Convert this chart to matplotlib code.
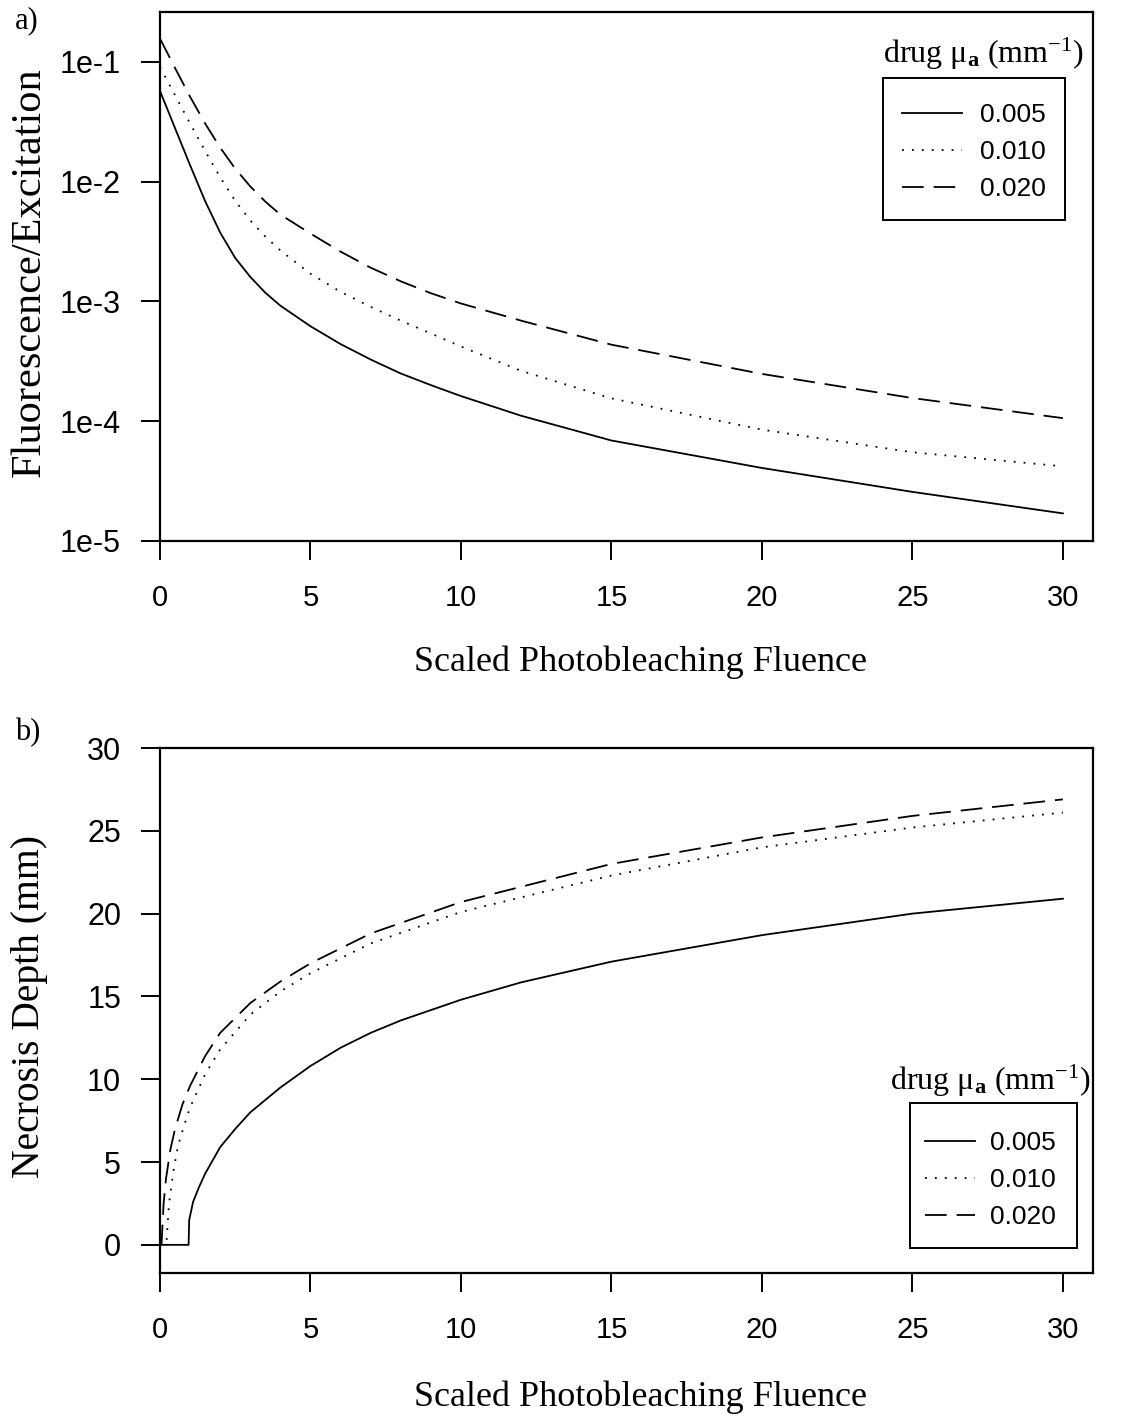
import matplotlib
matplotlib.use("Agg")
import matplotlib.pyplot as plt
from matplotlib.ticker import FixedLocator, FixedFormatter
from matplotlib.patches import Rectangle

plt.rcParams['mathtext.fontset'] = 'custom'
plt.rcParams['mathtext.rm'] = 'Liberation Serif'
plt.rcParams['mathtext.it'] = 'Liberation Serif:italic'
plt.rcParams['mathtext.bf'] = 'Liberation Serif:bold'

# ---------------- data ----------------
series_labels = ["0.005", "0.010", "0.020"]

# panel a) Fluorescence/Excitation vs scaled photobleaching fluence
fa_x = [0, 0.5, 1, 1.5, 2, 2.5, 3, 3.5, 4, 5, 6, 7, 8, 9, 10, 12, 15, 20, 25, 30]
fa_005 = [0.057, 0.0279, 0.01368, 0.00686, 0.00375, 0.00230, 0.00160, 0.00118, 9.2e-4,
          6.2e-4, 4.4e-4, 3.27e-4, 2.5e-4, 2.0e-4, 1.62e-4, 1.11e-4, 6.9e-5, 4.07e-5,
          2.57e-5, 1.7e-5]
fa_010 = [0.09, 0.0525, 0.0305, 0.018, 0.01085, 0.0069, 0.00473, 0.00347, 0.00266,
          0.0017, 0.0012, 9.0e-4, 6.9e-4, 5.4e-4, 4.2e-4, 2.63e-4, 1.55e-4, 8.5e-5,
          5.5e-5, 4.2e-5]
fa_020 = [0.156, 0.0885, 0.051, 0.0305, 0.0192, 0.0128, 0.0091, 0.0068, 0.0053,
          0.00368, 0.0026, 0.00191, 0.00147, 0.00117, 9.6e-4, 6.9e-4, 4.35e-4, 2.48e-4,
          1.56e-4, 1.06e-4]

# panel b) Necrosis depth vs scaled photobleaching fluence
nb_x_005 = [0, 0.95, 0.97, 1.1, 1.3, 1.5, 2, 2.5, 3, 4, 5, 6, 7, 8, 10, 12, 15, 20, 25, 30]
nb_005 = [0, 0, 1.5, 2.6, 3.5, 4.3, 5.9, 7.0, 8.0, 9.5, 10.8, 11.9, 12.8, 13.55, 14.8,
          15.85, 17.1, 18.7, 20.0, 20.9]
nb_x_010 = [0.22, 0.3, 0.45, 0.6, 0.8, 1, 1.5, 2, 3, 4, 5, 7, 10, 15, 20, 25, 30]
nb_010 = [0.3, 2.5, 4.5, 6.0, 7.2, 8.3, 10.3, 11.8, 13.9, 15.3, 16.4, 18.2, 20.1,
          22.3, 24.0, 25.2, 26.1]
nb_x_020 = [0, 0.05, 0.12, 0.2, 0.35, 0.5, 0.75, 1, 1.5, 2, 3, 4, 5, 7, 10, 15, 20, 25, 30]
nb_020 = [0, 0, 2.5, 4.0, 5.8, 7.0, 8.5, 9.6, 11.4, 12.8, 14.6, 15.9, 17.0, 18.8,
          20.7, 23.0, 24.6, 25.9, 26.9]

xticks = [0, 5, 10, 15, 20, 25, 30]
a_yticks = [1e-5, 1e-4, 1e-3, 1e-2, 1e-1]
a_yticklabels = ["1e-5", "1e-4", "1e-3", "1e-2", "1e-1"]
b_yticks = [0, 5, 10, 15, 20, 25, 30]

# ---------------- style ----------------
W, H = 1123, 1421
fig = plt.figure(figsize=(W / 100, H / 100), dpi=100)
SANS = "Liberation Sans"
SERIF = "Liberation Serif"
lw = 1.3
styles = [dict(ls='-'), dict(ls=(0, (1, 4.5))), dict(ls=(0, (12, 5.5)))]


def fx(px):
    return px / W


def fy(py):
    return 1 - py / H


def style_axes(ax):
    for s in ax.spines.values():
        s.set_linewidth(1.6)
        s.set_color('black')
    ax.tick_params(direction='out', length=14, width=1.4, color='black')
    ax.tick_params(axis='x', pad=17, labelsize=21)
    ax.tick_params(axis='y', pad=14, labelsize=22)
    ax.minorticks_off()
    for lab in ax.get_xticklabels() + ax.get_yticklabels():
        lab.set_fontfamily(SANS)


def add_legend(ax, lines, box, anchor, title_xy, hlen, htpad):
    fig.text(fx(title_xy[0]), fy(title_xy[1]),
             r"drug μ$_{\mathbf{a}}$ (mm$^{\mathrm{-1}}$)",
             family=SERIF, fontsize=23, ha='left', va='baseline')
    x0, y0, x1, y1 = box
    fig.patches.append(Rectangle((fx(x0), fy(y1)), (x1 - x0) / W, (y1 - y0) / H,
                                 transform=fig.transFigure, fill=False,
                                 edgecolor='black', linewidth=1.4, zorder=5))
    leg = ax.legend(lines, series_labels, loc='upper left',
                    bbox_to_anchor=(fx(anchor[0]), fy(anchor[1])),
                    bbox_transform=fig.transFigure, borderaxespad=0,
                    frameon=False, handlelength=hlen, handletextpad=htpad,
                    borderpad=0, labelspacing=0.5,
                    prop={'family': SANS, 'size': 19})
    return leg


# ---------------- panel a ----------------
ax1 = fig.add_axes([fx(160), fy(541), 933 / W, 529 / H])
ax1.set_yscale('log')
la = []
for vals, st in zip([fa_005, fa_010, fa_020], styles):
    l, = ax1.plot(fa_x, vals, color='black', lw=lw, **st)
    la.append(l)
ax1.set_xlim(0, 31)
ax1.set_ylim(1e-5, 0.26)
ax1.yaxis.set_major_locator(FixedLocator(a_yticks))
ax1.yaxis.set_major_formatter(FixedFormatter(a_yticklabels))
ax1.set_xticks(xticks)
style_axes(ax1)
ax1.set_xlabel("Scaled Photobleaching Fluence", family=SERIF, fontsize=26, va='center')
ax1.xaxis.set_label_coords((640 - 160) / 933, (541 - 662) / 529)
ax1.set_ylabel("Fluorescence/Excitation", family=SERIF, fontsize=30.5, va='center')
ax1.yaxis.set_label_coords((30 - 160) / 933, (541 - 272) / 529)
add_legend(ax1, la, (883, 78, 1065, 220), (902, 103), (883, 63), 2.27, 0.68)
fig.text(fx(15), fy(28), "a)", family=SERIF, fontsize=22, ha='left', va='baseline')

# ---------------- panel b ----------------
ax2 = fig.add_axes([fx(160), fy(1273), 933 / W, 525 / H])
lb = []
for xs, vals, st in zip([nb_x_005, nb_x_010, nb_x_020], [nb_005, nb_010, nb_020], styles):
    l, = ax2.plot(xs, vals, color='black', lw=lw, **st)
    lb.append(l)
ax2.set_xlim(0, 31)
ax2.set_ylim(-1.7, 30)
ax2.set_xticks(xticks)
ax2.set_yticks(b_yticks)
style_axes(ax2)
ax2.set_xlabel("Scaled Photobleaching Fluence", family=SERIF, fontsize=26, va='center')
ax2.xaxis.set_label_coords((640 - 160) / 933, (1273 - 1397) / 525)
ax2.set_ylabel("Necrosis Depth (mm)", family=SERIF, fontsize=28.5, va='center')
ax2.yaxis.set_label_coords((30 - 160) / 933, (1273 - 1007) / 525)
add_legend(ax2, lb, (910, 1103, 1077, 1248), (925, 1131), (890, 1090), 1.9, 0.57)
fig.text(fx(15), fy(740), "b)", family=SERIF, fontsize=22, ha='left', va='baseline')

fig.savefig("out.png", dpi=100)
